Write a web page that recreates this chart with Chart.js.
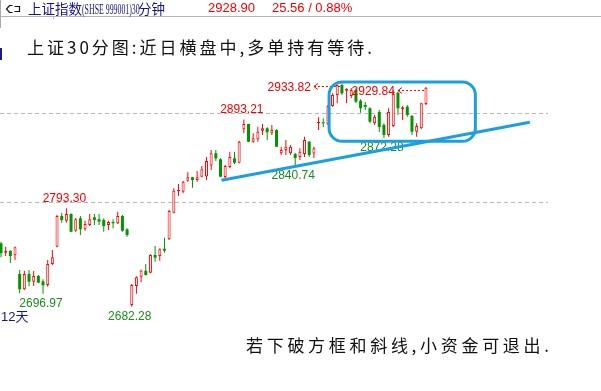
<!DOCTYPE html>
<html>
<head>
<meta charset="utf-8">
<script src="https://cdn.jsdelivr.net/npm/chart.js@4.4.0/dist/chart.umd.min.js"></script>
<style>
html,body{margin:0;padding:0;background:#fff;width:601px;height:391px;overflow:hidden;}
body{position:relative;font-family:"Liberation Sans",Arial,sans-serif;}
#wrap{position:absolute;left:0;top:0;width:601px;height:391px;}
.abs{position:absolute;white-space:nowrap;}
.cjk{font-family:"Noto Sans CJK SC","Noto Sans",sans-serif;}
</style>
</head>
<body>
<div id="wrap"><canvas id="c"></canvas></div>

<!-- header -->
<div class="abs" style="left:0;top:0;width:1px;height:28px;background:#a8a8a8"></div>
<div class="abs" style="left:0;top:48px;width:2px;height:12px;background:#1a1a90"></div>
<div class="abs" style="left:0;top:16px;width:601px;height:1px;background:#b4b4b4"></div>
<div class="abs" style="left:53px;top:17px;width:1px;height:2px;background:#b4b4b4"></div>
<svg class="abs" style="left:3px;top:2px" width="20" height="13" viewBox="0 0 20 13">
  <path d="M9.5,3.5 L6.5,3.5 L3.5,7 L6.5,10.5 L9.5,10.5" fill="none" stroke="#111" stroke-width="1.2"/>
  <path d="M11.5,4.5 L16.5,4.5 L16.5,9.5 L11.5,9.5" fill="none" stroke="#111" stroke-width="1.2"/>
</svg>
<div class="abs" style="left:28px;top:0px;height:16px;line-height:16px;color:#12128c;font-size:13.5px;">
  <span class="cjk">上证指数</span><span style="display:inline-block;font-family:'Liberation Serif',serif;font-size:14px;transform:scaleX(0.56);transform-origin:0 50%;width:57px;">(SHSE 999001)30</span><span class="cjk" style="margin-left:-1px">分钟</span>
</div>
<div class="abs" style="left:208px;top:0px;height:16px;line-height:16px;color:#f00000;font-size:13px;">2928.90</div>
<div class="abs" style="left:272px;top:0px;height:16px;line-height:16px;color:#f00000;font-size:13px;">25.56 / 0.88%</div>

<!-- commentary -->
<div class="abs cjk" style="left:27px;top:37px;font-size:17px;line-height:19px;letter-spacing:3px;color:#111;">上证30分图:近日横盘中,多单持有等待.</div>
<div class="abs cjk" style="left:246px;top:335px;font-size:17px;line-height:19px;letter-spacing:3.7px;color:#111;">若下破方框和斜线,小资金可退出.</div>
<div class="abs" style="left:1px;top:308px;font-size:13px;line-height:16px;color:#14148c;">12<span class="cjk">天</span></div>

<script>
// ---- data (30-minute candles, Shanghai Composite) ----
const openP  = [2753.8,2743.2,2745.2,2740.3,2719.3,2702.0,2719.3,2710.6,2717.0,2711.0,
                2706.9,2730.5,2750.0,2784.6,2779.3,2786.8,2768.0,2782.0,2769.6,2774.4,
                2783.1,2780.9,2780.1,2774.4,2777.8,2776.4,2784.6,2769.6,2684.4,2705.8,
                2716.2,2722.9,2720.7,2740.7,2739.5,2747.7,2758.3,2788.3,2812.7,2811.9,
                2824.3,2828.2,2825.1,2828.8,2829.1,2841.4,2855.2,2848.4,2828.5,2839.8,
                2849.5,2844.6,2882.2,2888.2,2868.2,2870.9,2880.6,2883.3,2877.7,2881.4,
                2855.2,2858.9,2855.2,2854.4,2851.0,2854.4,2868.2,2855.0,2889.0,2890.1,
                2887.8,2908.4,2920.8,2932.1,2925.7,2919.7,2926.5,2914.4,2909.6,2905.9,
                2889.0,2901.7,2887.1,2875.8,2885.9,2923.4,2904.7,2907.7,2897.2,2879.5,
                2883.3,2910.7];
const highP  = [2755.6,2750.0,2746.3,2750.0,2723.8,2723.0,2723.8,2722.6,2718.1,2713.3,
                2735.0,2746.3,2785.7,2788.3,2793.30,2787.6,2782.3,2784.6,2779.3,2786.8,
                2786.8,2786.8,2782.0,2779.3,2780.9,2789.4,2785.7,2770.7,2708.0,2716.8,
                2724.1,2730.5,2741.4,2750.8,2748.2,2760.1,2791.3,2815.8,2820.6,2824.3,
                2833.8,2828.6,2835.3,2840.9,2851.0,2858.9,2858.9,2849.5,2842.0,2857.0,
                2857.0,2869.4,2893.21,2888.5,2877.7,2885.1,2888.2,2884.5,2887.1,2882.2,
                2862.6,2870.2,2864.5,2855.9,2860.8,2873.9,2869.0,2862.6,2895.7,2894.6,
                2909.6,2922.7,2932.5,2933.82,2928.4,2928.7,2928.4,2916.0,2913.0,2907.0,
                2898.3,2903.9,2889.0,2905.9,2926.5,2924.5,2908.4,2909.6,2898.3,2889.0,
                2912.2,2929.84];
const lowP   = [2738.1,2739.5,2731.7,2735.0,2697.5,2701.2,2705.8,2705.8,2708.8,2696.97,
                2705.0,2729.4,2749.3,2777.0,2777.0,2766.2,2766.9,2763.2,2768.0,2773.3,
                2774.4,2774.4,2766.9,2768.8,2770.7,2775.6,2766.9,2761.3,2682.28,2697.1,
                2710.0,2717.5,2720.2,2733.1,2734.2,2743.2,2757.5,2787.8,2807.1,2810.1,
                2823.2,2816.4,2823.2,2828.2,2825.1,2836.4,2846.5,2828.5,2826.2,2838.3,
                2843.1,2844.0,2877.7,2867.8,2867.1,2868.2,2875.8,2870.2,2875.8,2862.3,
                2853.3,2853.3,2853.3,2840.74,2847.6,2851.0,2851.0,2849.9,2881.4,2884.8,
                2887.1,2907.7,2911.5,2920.8,2911.5,2917.5,2911.8,2900.9,2903.9,2889.0,
                2887.1,2879.2,2872.28,2873.9,2884.8,2898.3,2892.7,2896.4,2875.8,2873.9,
                2882.2,2909.6];
const closeP = [2742.6,2745.2,2739.5,2749.3,2702.0,2719.3,2710.6,2717.0,2709.5,2706.5,
                2730.5,2738.1,2784.6,2780.1,2786.8,2766.9,2780.9,2769.6,2775.6,2780.9,
                2780.1,2778.2,2773.3,2777.8,2776.4,2784.6,2768.0,2763.2,2706.9,2715.5,
                2723.3,2718.1,2740.7,2737.6,2747.1,2745.5,2790.2,2813.1,2813.8,2823.2,
                2828.2,2825.1,2828.2,2837.2,2846.5,2855.2,2849.5,2828.8,2840.9,2851.0,
                2844.6,2868.2,2888.2,2868.2,2872.1,2879.5,2883.3,2878.8,2881.4,2862.6,
                2858.9,2862.6,2862.6,2849.9,2857.0,2870.2,2853.3,2860.8,2890.4,2889.0,
                2908.4,2920.8,2932.1,2922.7,2927.6,2926.5,2913.3,2905.9,2907.3,2890.8,
                2896.4,2884.8,2875.8,2901.7,2922.0,2905.9,2907.0,2898.3,2879.5,2885.9,
                2911.5,2928.90];
const categories = openP.map((_, i) => i);

// marked extremes
const markIndex = [14, 52, 9, 28, 63, 82, 73, 91];
const markValue = [2793.30, 2893.21, 2696.97, 2682.28, 2840.74, 2872.28, 2933.82, 2929.84];
const markType  = ['high', 'high', 'low', 'low', 'low', 'low', 'arrow', 'arrow'];

// hand-drawn annotations (in data space)
const trendIndex = [47.23, 113.24];
const trendValue = [2824.8, 2890.1];
const boxIndex = [70.25, 101.58];
const boxValue = [2935.5, 2868.7];

const gridValues = [2800, 2900];

// ---- styling ----
const UP = '#ff0000', DN = '#009600', BLUE = '#1a9fe0';
const isUp = i => closeP[i] >= openP[i];

const annot = {
  id: 'annot',
  afterDatasetDraw(chart, args) {
    if (args.index !== 2) return; // after candle bodies
    const x = chart.scales.x, y = chart.scales.y, c = chart.ctx;
    c.save();
    c.font = '12px "Liberation Sans", Arial, sans-serif';
    c.textBaseline = 'middle';
    markIndex.forEach((idx, k) => {
      const px = x.getPixelForValue(idx), py = y.getPixelForValue(markValue[k]);
      const txt = markValue[k].toFixed(2);
      if (markType[k] === 'high') {
        c.fillStyle = '#f00000'; c.textAlign = 'center';
        c.fillText(txt, px - 2, py - 9.5);
      } else if (markType[k] === 'low') {
        c.fillStyle = '#1a8c1a'; c.textAlign = 'center';
        c.fillText(txt, px - 2, py + 9.5);
      } else {
        const ay = Math.round(py + 3) + 0.5;
        c.fillStyle = '#f00000'; c.textAlign = 'right';
        c.fillText(txt, px - 31, ay + 1);
        c.strokeStyle = '#f00000'; c.lineWidth = 1;
        c.setLineDash([2, 2]);
        c.beginPath(); c.moveTo(px - 28, ay); c.lineTo(px - 1, ay); c.stroke();
        c.setLineDash([]);
        c.beginPath(); c.moveTo(px - 24, ay - 3); c.lineTo(px - 28, ay); c.lineTo(px - 24, ay + 3); c.stroke();
      }
    });
    c.restore();
  },
  afterDatasetsDraw(chart) {
    const x = chart.scales.x, y = chart.scales.y, c = chart.ctx;
    const l = x.getPixelForValue(boxIndex[0]), r = x.getPixelForValue(boxIndex[1]);
    const t = y.getPixelForValue(boxValue[0]), b = y.getPixelForValue(boxValue[1]);
    c.save();
    c.strokeStyle = BLUE; c.lineWidth = 3;
    c.beginPath();
    c.roundRect(l, t, r - l, b - t, 13);
    c.stroke();
    c.restore();
  }
};

new Chart(document.getElementById('c'), {
  type: 'bar',
  data: {
    datasets: [
      { type: 'line', order: 0,
        data: trendIndex.map((v, k) => ({ x: v, y: trendValue[k] })),
        borderColor: BLUE, borderWidth: 3, pointRadius: 0, fill: false, tension: 0 },
      { order: 2, grouped: false, barThickness: 1, inflateAmount: 0,
        data: categories.map(i => ({ x: i, y: [lowP[i], highP[i]] })),
        backgroundColor: ctx => isUp(ctx.dataIndex) ? UP : DN, borderWidth: 0 },
      { order: 1, grouped: false, barThickness: 3, inflateAmount: 0, minBarLength: 1,
        data: categories.map(i => ({ x: i, y: [openP[i], closeP[i]] })),
        backgroundColor: ctx => isUp(ctx.dataIndex) ? '#ffffff' : DN,
        borderColor: ctx => isUp(ctx.dataIndex) ? UP : DN,
        borderWidth: ctx => isUp(ctx.dataIndex) ? 1 : 0,
        borderSkipped: false }
    ]
  },
  options: {
    responsive: true, maintainAspectRatio: false, animation: false,
    layout: { padding: { left: 0, right: 53, top: 0, bottom: 0 } },
    plugins: { legend: { display: false }, tooltip: { enabled: false } },
    scales: {
      x: { type: 'linear', min: -0.2141, max: 117.131, display: false, offset: false,
           grid: { offset: false } },
      y: { type: 'linear', min: 2587.5, max: 3027.815, display: true, position: 'left',
           afterBuildTicks: s => { s.ticks = gridValues.map(v => ({ value: v })); },
           ticks: { display: false },
           grid: { color: '#b9b9b9', lineWidth: 1, drawTicks: false },
           border: { display: false, dash: [4, 3] } }
    }
  },
  plugins: [annot]
});
</script>
</body>
</html>
